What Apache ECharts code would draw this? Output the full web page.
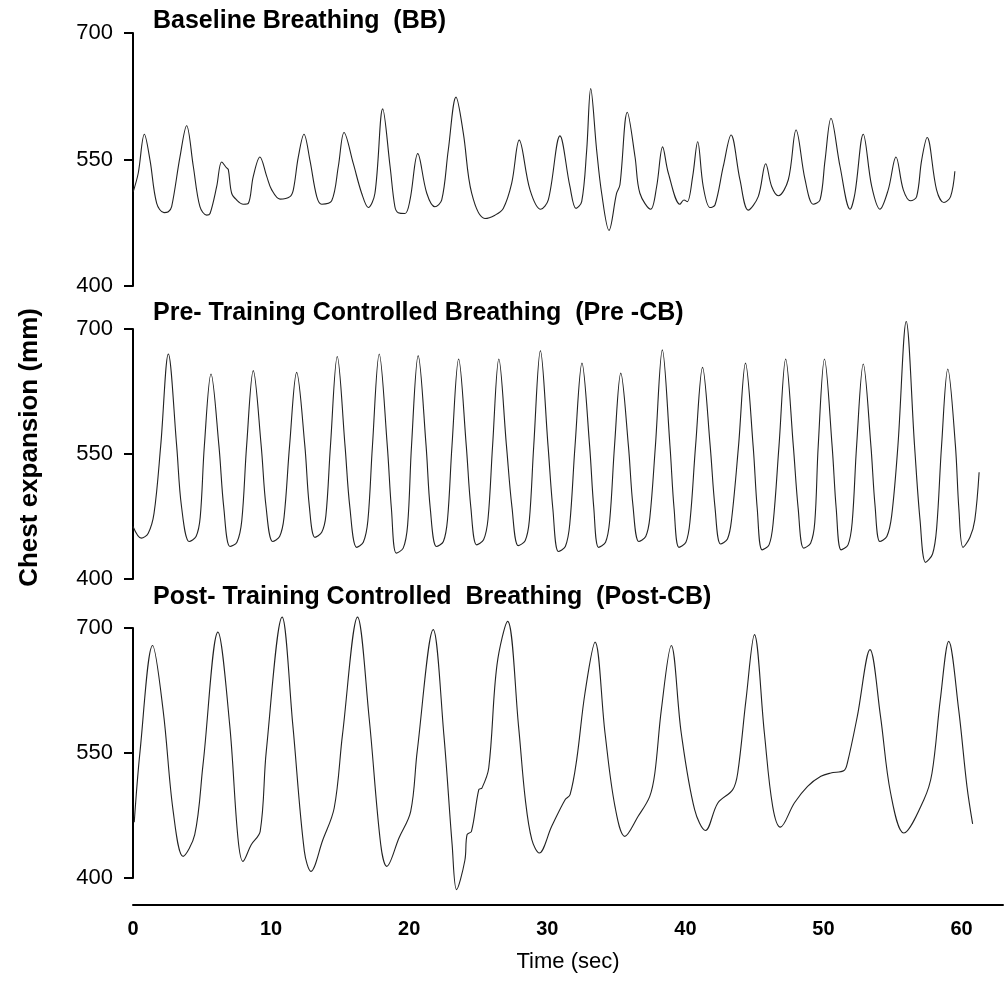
<!DOCTYPE html>
<html>
<head>
<meta charset="utf-8">
<script src="https://cdn.jsdelivr.net/npm/echarts@6/dist/echarts.min.js"></script>
<style>
  html, body { margin: 0; padding: 0; background: #fff; }
  #chart { width: 1006px; height: 989px; }
</style>
</head>
<body>
<div id="chart"></div>
<script>
var titles = ['Baseline Breathing  (BB)', 'Pre- Training Controlled Breathing  (Pre -CB)', 'Post- Training Controlled  Breathing  (Post-CB)'];
var yTitle = 'Chest expansion (mm)';
var xTitle = 'Time (sec)';
var yMin = 400, yMax = 700, yStep = 150;
var xMin = 0, xMax = 63, xStep = 10;

// [time (sec), chest expansion (mm)]
var bbData = [
	[0.02,512],[0.38,534],[0.82,580],[1.23,549],[1.71,498],[2.24,487],[2.55,488],[2.79,494],[3.39,553],[3.87,590],
	[4.35,542],[4.83,494],[5.32,484],[5.56,486],[6.04,518],[6.40,547],[6.76,540],[6.88,538],[7.12,510],[7.48,502],
	[7.96,497],[8.32,498],[8.68,530],[9.16,553],[9.65,530],[10.01,514],[10.61,503],[11.33,506],[11.57,514],[11.93,553],
	[12.34,580],[12.77,549],[13.26,506],[13.62,497],[14.34,501],[14.82,542],[15.23,582],[15.90,545],[16.50,510],[16.98,493],
	[17.46,510],[18.02,610],[18.55,542],[18.90,494],[19.14,487],[19.63,486],[19.99,502],[20.55,557],[21.20,510],[21.79,494],
	[22.28,502],[22.75,561],[23.31,624],[23.84,581],[24.44,510],[25.40,480],[26.12,484],[26.72,492],[27.33,522],[27.87,573],
	[28.65,514],[29.42,491],[29.97,502],[30.81,578],[31.53,518],[31.97,492],[32.38,500],[32.74,561],[33.03,634],[33.46,561],
	[33.82,510],[34.35,466],[34.90,510],[35.14,520],[35.67,606],[36.23,553],[36.58,510],[37.36,491],[37.79,518],[38.22,565],
	[38.63,534],[39.47,497],[39.76,502],[40.00,500],[40.39,530],[40.75,571],[41.15,518],[41.64,493],[42.00,496],[42.60,542],
	[43.16,579],[43.80,526],[44.40,490],[45.12,506],[45.66,545],[46.09,518],[46.57,507],[47.29,526],[47.85,585],[48.50,526],
	[49.09,497],[49.58,502],[49.94,549],[50.37,599],[51.02,542],[51.75,491],[52.10,510],[52.70,580],[53.31,518],[53.90,491],
	[54.50,514],[55.06,553],[55.59,514],[56.12,501],[56.55,506],[56.91,549],[57.31,576],[57.99,514],[58.52,499],[59.00,506],
	[59.31,536]
];

var preData = [
	[0.00,463],[0.60,449],[1.10,455],[1.52,479],[2.00,560],[2.55,670],[3.15,560],[3.50,487],[4.06,445],[4.55,451],
	[4.85,474],[5.15,560],[5.63,646],[6.20,560],[6.55,486],[7.00,439],[7.50,444],[7.85,470],[8.20,560],[8.68,650],
	[9.25,560],[9.60,487],[10.08,445],[10.58,451],[10.90,474],[11.30,560],[11.81,648],[12.40,560],[12.72,488],[13.13,450],
	[13.62,456],[13.92,476],[14.25,560],[14.74,667],[15.30,560],[15.65,486],[16.14,438],[16.62,444],[16.95,470],[17.28,560],
	[17.77,670],[18.35,560],[18.65,484],[19.00,431],[19.50,437],[19.82,465],[20.10,560],[20.58,668],[21.15,560],[21.45,485],
	[21.90,439],[22.40,445],[22.70,472],[23.02,560],[23.50,664],[24.05,560],[24.38,486],[24.80,441],[25.30,447],[25.62,472],
	[25.95,560],[26.40,664],[26.95,560],[27.35,486],[27.80,440],[28.30,446],[28.60,470],[28.92,560],[29.40,674],[29.95,560],
	[30.30,484],[30.70,433],[31.20,439],[31.52,466],[31.90,560],[32.40,659],[32.95,560],[33.25,486],[33.60,438],[34.10,444],
	[34.40,470],[34.75,560],[35.20,647],[35.75,560],[36.08,488],[36.50,445],[37.00,451],[37.30,474],[37.70,560],[38.20,675],
	[38.75,560],[39.05,484],[39.40,438],[39.90,444],[40.20,470],[40.60,560],[41.10,654],[41.65,560],[42.00,486],[42.40,442],
	[42.90,448],[43.20,472],[43.70,560],[44.20,659],[44.75,560],[45.05,484],[45.40,435],[45.90,441],[46.20,468],[46.62,560],
	[47.10,664],[47.65,560],[48.00,485],[48.40,437],[48.90,443],[49.20,468],[49.45,560],[49.90,664],[50.45,560],[50.75,484],
	[51.10,435],[51.60,441],[51.90,468],[52.22,560],[52.70,658],[53.25,560],[53.55,488],[53.90,445],[54.40,451],[54.75,476],
	[55.20,560],[55.80,709],[56.40,560],[56.80,470],[57.20,420],[57.70,430],[58.00,462],[58.35,560],[58.80,652],[59.35,560],
	[59.60,484],[59.90,438],[60.40,450],[60.75,471],[61.06,528]
];

var postData = [
	[0.09,467],[0.51,552],[1.42,679],[2.19,600],[2.91,480],[3.63,426],[4.47,452],[5.07,536],[6.15,695],[7.00,584],
	[7.60,448],[7.96,420],[8.56,440],[9.21,456],[9.65,552],[10.80,713],[11.57,584],[12.41,432],[12.89,408],[13.73,445],
	[14.57,484],[15.17,572],[16.26,713],[17.10,592],[17.94,440],[18.38,414],[19.26,448],[20.11,480],[20.58,552],[21.74,698],
	[22.51,572],[23.11,440],[23.43,386],[24.03,421],[24.19,452],[24.51,456],[25.04,506],[25.27,508],[25.76,532],[26.36,656],
	[27.13,708],[27.92,582],[28.41,494],[28.88,446],[29.42,430],[30.32,462],[31.29,494],[31.65,500],[32.13,542],[32.73,622],
	[33.46,683],[34.18,574],[34.90,486],[35.62,450],[36.58,474],[37.42,498],[37.79,526],[38.26,602],[38.98,679],[39.70,574],
	[40.67,482],[41.46,457],[42.35,490],[43.43,506],[43.79,526],[44.39,614],[45.00,692],[45.72,574],[46.32,486],[46.88,461],
	[47.89,490],[48.85,510],[49.81,522],[50.53,526],[51.49,529],[51.73,538],[52.45,594],[53.37,674],[54.13,594],[54.86,502],
	[55.82,454],[57.27,494],[57.86,526],[58.46,614],[59.07,684],[59.79,602],[60.39,510],[60.80,465]
];

var font = '"Liberation Sans", Arial, Helvetica, sans-serif';
var traces = [bbData, preData, postData];
var grids = [
	{left: 133, right: 0, top: 33, height: 253},
	{left: 133, right: 0, top: 329, height: 250},
	{left: 133, right: 0, top: 628, height: 250}
];
var titleTops = [9, 301, 585];

var xAxes = [], yAxes = [], series = [], titleList = [];
for (var i = 0; i < 3; i++) {
	var last = (i == 2);
	xAxes.push({
		type: 'value', gridIndex: i, min: xMin, max: xMax, interval: xStep,
		show: last,
		offset: 27,
		axisLine: {show: true, lineStyle: {color: '#000', width: 2}},
		axisTick: {show: false},
		splitLine: {show: false},
		axisLabel: {
			margin: 14, color: '#000', fontSize: 20, fontWeight: 'bold', fontFamily: font,
			formatter: function (v) { return v % 10 === 0 ? String(v) : ''; }
		},
		name: last ? xTitle : '',
		nameLocation: 'middle',
		nameGap: 46,
		nameTextStyle: {color: '#000', fontSize: 22, fontFamily: font}
	});
	yAxes.push({
		type: 'value', gridIndex: i, min: yMin, max: yMax, interval: yStep,
		axisLine: {show: true, lineStyle: {color: '#000', width: 2}},
		axisTick: {show: true, length: 9, lineStyle: {color: '#000', width: 2}},
		splitLine: {show: false},
		axisLabel: {margin: 20, color: '#000', fontSize: 22, fontFamily: font}
	});
	series.push({
		type: 'line', xAxisIndex: i, yAxisIndex: i,
		data: traces[i],
		smooth: 0.35,
		clip: false,
		showSymbol: false,
		silent: true,
		lineStyle: {color: '#222', width: 1.1}
	});
	titleList.push({
		text: titles[i], left: 153, top: titleTops[i], padding: 0,
		textStyle: {color: '#000', fontSize: 25, fontWeight: 'bold', fontFamily: font}
	});
}

var chart = echarts.init(document.getElementById('chart'));
chart.setOption({
	animation: false,
	backgroundColor: '#fff',
	title: titleList,
	grid: grids,
	xAxis: xAxes,
	yAxis: yAxes,
	series: series,
	graphic: [{
		type: 'text', left: 17, top: 308, rotation: Math.PI / 2,
		style: {text: yTitle, fill: '#000', font: 'bold 26px ' + font}
	}]
});
</script>
</body>
</html>
